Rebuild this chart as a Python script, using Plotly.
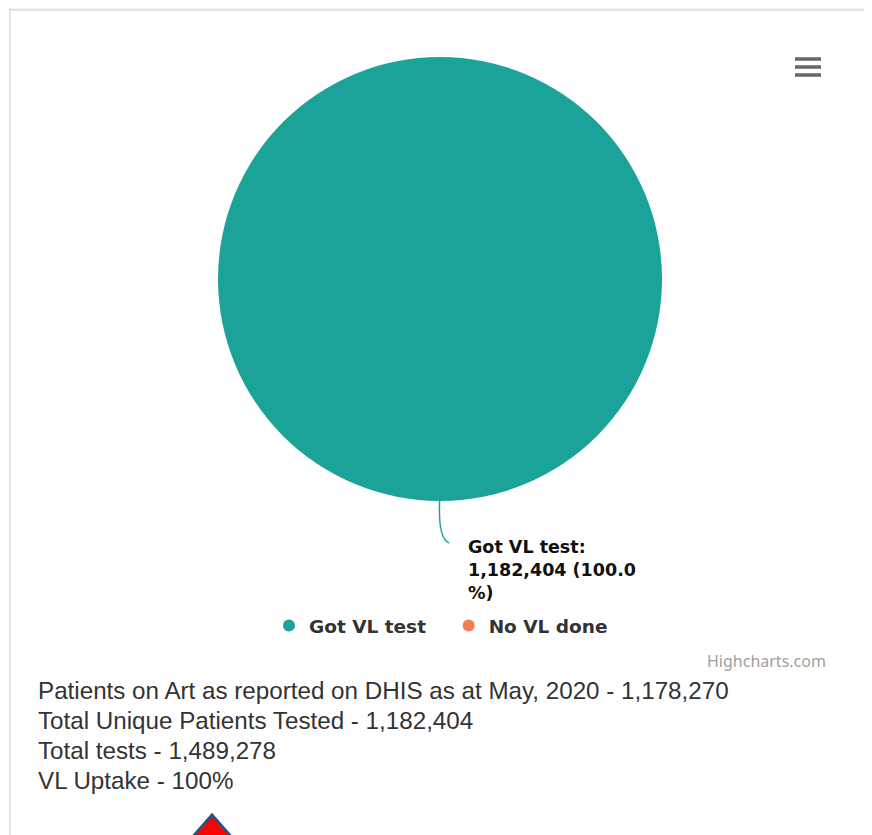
import plotly.graph_objects as go

W, H = 872, 835
OFF = 8  # page body margin offset

# ---- data ----
categories = ["Got VL test", "No VL done"]
values = [1182404, 0]
colors = ["#1ba39a", "#f47c52"]
info_lines = [
    "Patients on Art as reported on DHIS as at May, 2020 - 1,178,270",
    "Total Unique Patients Tested - 1,182,404",
    "Total tests - 1,489,278",
    "VL Uptake - 100%",
]

def px(x):
    return (x - OFF) / W

def py(y):
    return 1 - (y - OFF) / H

fig = go.Figure()

cx, cy, r = 440, 279, 222
fig.add_trace(go.Pie(
    labels=categories, values=values,
    marker=dict(colors=colors, line=dict(color="white", width=0)),
    textinfo="none", sort=False, direction="clockwise", rotation=0,
    showlegend=False, hoverinfo="label+value+percent",
    domain=dict(x=[px(cx - r), px(cx + r)], y=[py(cy + r), py(cy - r)]),
))

for i, (c, col) in enumerate(zip(categories, colors)):
    pad = "&nbsp;&nbsp;&nbsp;" if i < len(categories) - 1 else ""
    fig.add_trace(go.Scatter(
        x=[None], y=[None], mode="markers", name=f"<b>{c}</b>{pad}",
        marker=dict(color=col, size=18, symbol="circle"),
    ))

total = sum(values)
pct = values[0] / total * 100
label = f"{categories[0]}:<br>{values[0]:,} ({pct:.1f}<br>%)"

shapes = []
# connector
shapes.append(dict(type="path", xref="paper", yref="paper",
                   path=f"M {px(440)} {py(494)} Q {px(437)} {py(538)} {px(449)} {py(543)}",
                   line=dict(color="#1ba39a", width=1.5)))
# frame
shapes.append(dict(type="rect", xref="paper", yref="paper", x0=0, x1=1, y0=py(10), y1=1,
                   fillcolor="#f4f4f4", line=dict(width=0), layer="below"))
shapes.append(dict(type="line", xref="paper", yref="paper", x0=px(10), x1=1, y0=py(10), y1=py(10),
                   line=dict(color="#dddddd", width=1.5)))
shapes.append(dict(type="line", xref="paper", yref="paper", x0=px(10), x1=px(10), y0=0, y1=1,
                   line=dict(color="#dddddd", width=1.5)))
# hamburger icon
for yy in (59, 67, 75):
    shapes.append(dict(type="line", xref="paper", yref="paper", x0=px(795), x1=px(821), y0=py(yy), y1=py(yy),
                       line=dict(color="#666666", width=3.5)))
# red arrow tip at bottom
shapes.append(dict(type="path", xref="paper", yref="paper",
                   path=f"M {px(190)} {py(840)} L {px(212)} {py(815)} L {px(234)} {py(840)} Z",
                   fillcolor="#ff0000", line=dict(color="#2f4f7f", width=3)))

annotations = [
    dict(x=px(828), y=py(661), xref="paper", yref="paper", xanchor="right", yanchor="middle",
         text="Highcharts.com", showarrow=False,
         font=dict(family="Noto Sans", size=16, color="#a0a0a0")),
    dict(x=px(466), y=py(535), xref="paper", yref="paper", xanchor="left", yanchor="top",
         text=f"<b>{label}</b>", showarrow=False, align="left",
         font=dict(family="DejaVu Sans", size=17.5, color="#111111")),
]
for i, line in enumerate(info_lines):
    annotations.append(dict(x=px(36), y=py(690 + i * 30.3), xref="paper", yref="paper",
                            xanchor="left", yanchor="middle", text=line, showarrow=False,
                            font=dict(family="Liberation Sans", size=24.2, color="#333333")))

fig.update_layout(
    width=W, height=H, margin=dict(l=0, r=0, t=0, b=0),
    paper_bgcolor="white", plot_bgcolor="white",
    xaxis=dict(visible=False), yaxis=dict(visible=False),
    showlegend=True,
    legend=dict(orientation="h", x=px(441), xanchor="center", y=py(626), yanchor="middle",
                font=dict(family="DejaVu Sans", size=18.5, color="#333333"),
                itemsizing="constant", bgcolor="rgba(0,0,0,0)"),
    shapes=shapes, annotations=annotations,
)

fig.write_html("out.html")
